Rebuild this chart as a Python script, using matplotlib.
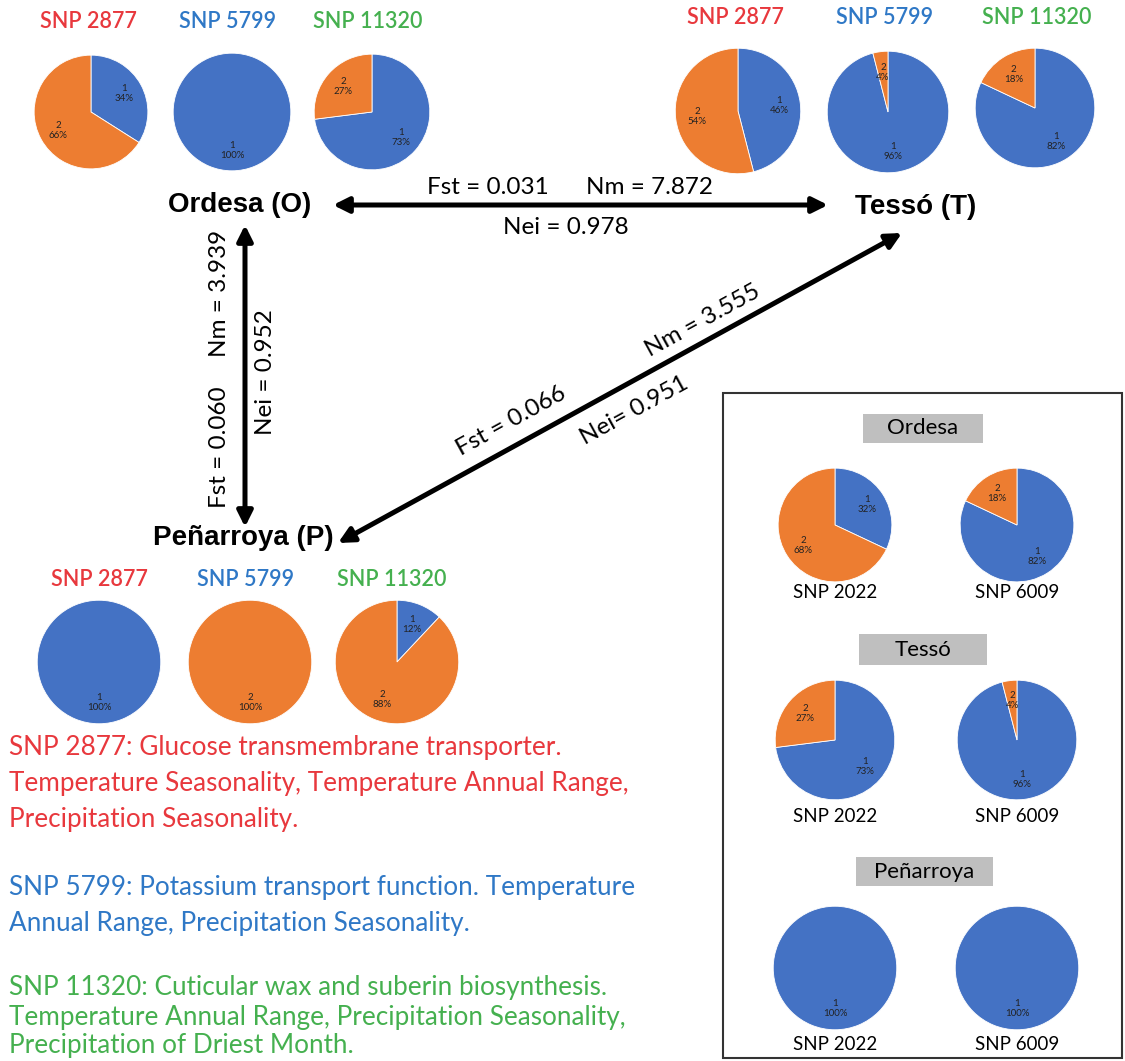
import matplotlib.pyplot as plt
from matplotlib.patches import Rectangle

# allele frequencies (%): [allele 1, allele 2]
main_snps = ["SNP 2877", "SNP 5799", "SNP 11320"]
snp_colors = ["#E8383D", "#2F78C6", "#45B04F"]
ordesa_pct = [[34, 66], [100, 0], [73, 27]]
tesso_pct = [[46, 54], [96, 4], [82, 18]]
penarroya_pct = [[100, 0], [0, 100], [12, 88]]

inset_snps = ["SNP 2022", "SNP 6009"]
inset_ordesa = [[32, 68], [82, 18]]
inset_tesso = [[73, 27], [96, 4]]
inset_penarroya = [[100, 0], [100, 0]]

alleles = ["1", "2"]
allele_colors = ["#4472C4", "#ED7D31"]

# pairwise stats
edge_O_T = ["Fst = 0.031", "Nm = 7.872", "Nei = 0.978"]
edge_O_P = ["Fst = 0.060", "Nm = 3.939", "Nei = 0.952"]
edge_P_T = ["Fst = 0.066", "Nm = 3.555", "Nei= 0.951"]

notes = [
    ["SNP 2877: Glucose transmembrane transporter.",
     "Temperature Seasonality, Temperature Annual Range,",
     "Precipitation Seasonality."],
    ["SNP 5799: Potassium transport function. Temperature",
     "Annual Range, Precipitation Seasonality."],
    ["SNP 11320: Cuticular wax and suberin biosynthesis.",
     "Temperature Annual Range, Precipitation Seasonality,",
     "Precipitation of Driest Month."],
]

W, H = 1125, 1061
CAL = ["Lato", "DejaVu Sans"]
BOLD = ["Liberation Sans", "DejaVu Sans"]

fig = plt.figure(figsize=(W / 100, H / 100), dpi=100)
ax = fig.add_axes([0, 0, 1, 1])
ax.set_xlim(0, W)
ax.set_ylim(H, 0)
ax.axis("off")


def add_pie(cx, cy, r, pct):
    pax = fig.add_axes([(cx - r) / W, 1 - (cy + r) / H, 2 * r / W, 2 * r / H])
    vals = [v for v in pct if v > 0]
    cols = [c for v, c in zip(pct, allele_colors) if v > 0]
    labs = [f"{a}\n{v}%" for v, a in zip(pct, alleles) if v > 0]
    wedges, texts = pax.pie(vals, colors=cols, labels=labs, startangle=90,
                            counterclock=False, labeldistance=0.66,
                            wedgeprops=dict(edgecolor="white", linewidth=0.6),
                            textprops=dict(fontsize=7, color="#222222",
                                           family=CAL, linespacing=1.15))
    for t in texts:
        t.set_ha("center")
    pax.set_xlim(-1.02, 1.02)
    pax.set_ylim(-1.02, 1.02)


def title(x, y, s, c):
    ax.text(x, y, s, color=c, fontsize=15.5, family=CAL, weight="semibold",
            ha="center", va="center")


# top-left: Ordesa
for i, (x, r) in enumerate([(91, 58), (232, 60), (372, 59)]):
    add_pie(x, 112, r, ordesa_pct[i])
for x, s, c in zip([88, 228, 368], main_snps, snp_colors):
    title(x, 21, s, c)

# top-right: Tessó
for i, (x, y, r) in enumerate([(738, 111, 64), (888, 112, 62), (1035, 108, 61)]):
    add_pie(x, y, r, tesso_pct[i])
for x, s, c in zip([735, 885, 1037], main_snps, snp_colors):
    title(x, 17, s, c)

# bottom: Peñarroya
for i, x in enumerate([99, 250, 397]):
    add_pie(x, 662, 63, penarroya_pct[i])
for x, s, c in zip([99, 246, 392], main_snps, snp_colors):
    title(x, 580, s, c)

# node labels
ax.text(240, 205, "Ordesa (O)", fontsize=20, weight="bold", family=BOLD,
        ha="center", va="center")
ax.text(916, 207, "Tessó (T)", fontsize=20, weight="bold", family=BOLD,
        ha="center", va="center")
ax.text(243, 538, "Peñarroya (P)", fontsize=20, weight="bold", family=BOLD,
        ha="center", va="center")

arrow = dict(arrowstyle="<|-|>", lw=3.6, color="black", mutation_scale=23,
             shrinkA=0, shrinkB=0)
ax.annotate("", xy=(333, 205), xytext=(828, 205), arrowprops=arrow)
ax.annotate("", xy=(245, 225), xytext=(245, 527), arrowprops=arrow)
ax.annotate("", xy=(338, 543), xytext=(902, 233), arrowprops=arrow)

# edge labels
fs = 17.5
ax.text(488, 187, edge_O_T[0], fontsize=fs, family=CAL, ha="center", va="center")
ax.text(649, 187, edge_O_T[1], fontsize=fs, family=CAL, ha="center", va="center")
ax.text(566, 228, edge_O_T[2], fontsize=fs, family=CAL, ha="center", va="center")

ax.text(219, 447, edge_O_P[0], fontsize=fs, family=CAL, ha="center", va="center", rotation=90)
ax.text(219, 293, edge_O_P[1], fontsize=fs, family=CAL, ha="center", va="center", rotation=90)
ax.text(265, 372, edge_O_P[2], fontsize=fs, family=CAL, ha="center", va="center", rotation=90)

ang = 28.8
ax.text(511, 421, edge_P_T[0], fontsize=fs, family=CAL, ha="center", va="center", rotation=ang)
ax.text(703, 321, edge_P_T[1], fontsize=fs, family=CAL, ha="center", va="center", rotation=ang)
ax.text(634, 410, edge_P_T[2], fontsize=fs, family=CAL, ha="center", va="center", rotation=ang)

# notes at the bottom left
ys = [[747, 784, 820], [888, 924], [988, 1017, 1046]]
for lines, yy, c in zip(notes, ys, snp_colors):
    for line, y in zip(lines, yy):
        ax.text(9, y, line, color=c, fontsize=18.8, family=CAL, ha="left", va="center")

# inset panel
ax.add_patch(Rectangle((723, 393), 399, 665, fill=False, edgecolor="#333333", lw=1.5))
boxes = [("Ordesa", 863, 414, 120, 29), ("Tessó", 859, 634, 128, 31),
         ("Peñarroya", 856, 857, 137, 29)]
for name, x0, y0, bw, bh in boxes:
    ax.add_patch(Rectangle((x0, y0), bw, bh, facecolor="#BFBFBF", edgecolor="none"))
    ax.text(x0 + bw / 2, y0 + bh / 2, name, fontsize=16, family=CAL,
            ha="center", va="center")

inset_rows = [(inset_ordesa, 525, 58, 592), (inset_tesso, 740, 61, 817),
              (inset_penarroya, 968, 63, 1045)]
for data, cy, r, ly in inset_rows:
    for pct, x, s in zip(data, [835, 1017], inset_snps):
        add_pie(x, cy, r, pct)
        ax.text(x, ly, s, fontsize=13.5, family=CAL, ha="center", va="center")

fig.savefig("out.png", dpi=100)
